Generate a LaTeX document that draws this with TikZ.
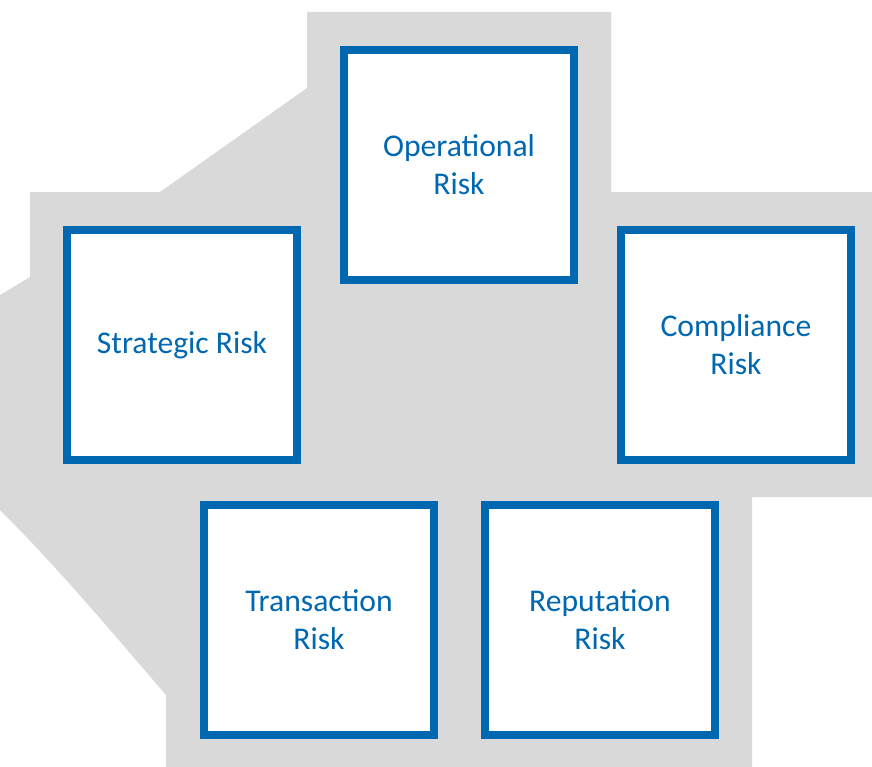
\documentclass[tikz,border=0pt]{standalone}
\usepackage{fontspec}
\setmainfont{Carlito}
\usepackage{tikz}
\usetikzlibrary{positioning}

\definecolor{riskblue}{HTML}{0067B1}
\definecolor{riskgray}{HTML}{D9D9D9}

\tikzset{
  riskbox/.style={draw=riskblue, line width=0.16cm, fill=white, text=riskblue,
    minimum size=4.6cm, align=center, font=\fontsize{18}{21.5}\selectfont}
}

\begin{document}
\begin{tikzpicture}[x=0.02cm,y=-0.02cm]
		
		\useasboundingbox (0,0) rectangle (872,767);
		
		% background
		\fill[riskgray] (307,12) -- (611,12) -- (611,192) -- (872,192) -- (872,497)
			-- (752,497) -- (752,767) -- (166,767) -- (166,695)
			.. controls (110,630) and (60,570) .. (0,510)
			-- (0,295) -- (30,277) -- (30,192) -- (160,192) -- (307,88) -- cycle;
		
		\node[riskbox] (OR) at (459,165) {Operational\\Risk};
		\node[riskbox] (SR) at (182,345) {Strategic Risk};
		\node[riskbox] (CR) at (736,345) {Compliance\\Risk};
		\node[riskbox] (TR) at (319,620) {Transaction\\Risk};
		\node[riskbox] (RR) at (600,620) {Reputation\\Risk};
		
	\end{tikzpicture}
\end{document}
